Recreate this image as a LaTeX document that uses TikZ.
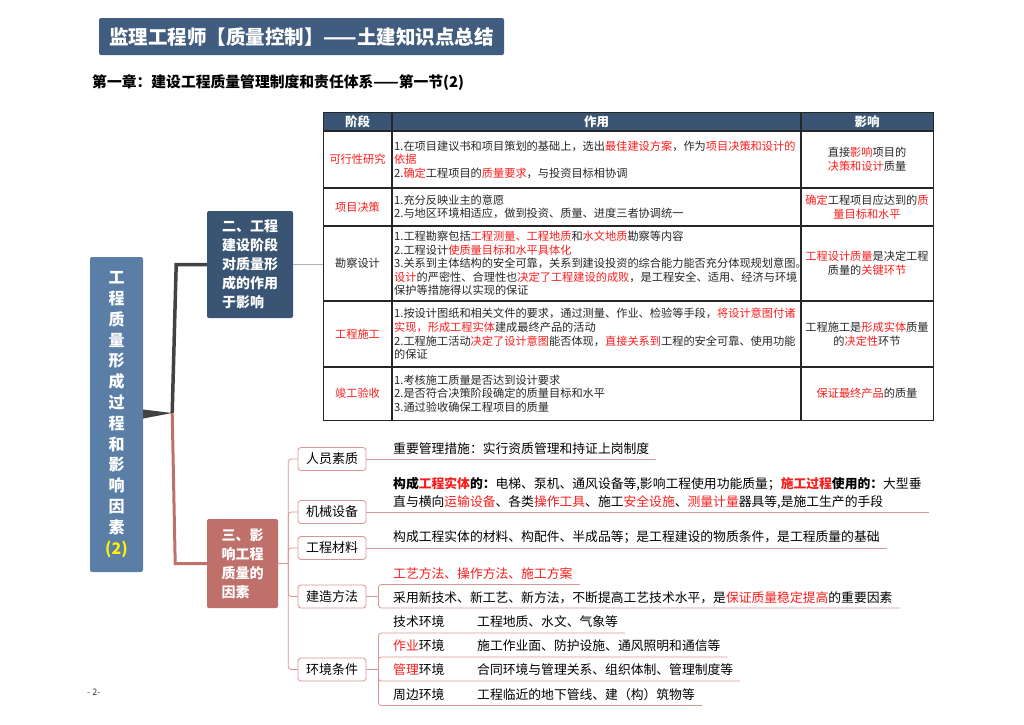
\documentclass[tikz,border=0pt]{standalone}
\usepackage{fontspec}
\setmainfont{Noto Sans CJK SC}
\usepackage{xcolor}
\usepackage{tikz}
\usetikzlibrary{calc,positioning}
\definecolor{titleblue}{RGB}{64,92,126}
\definecolor{deepblue}{RGB}{58,85,115}
\definecolor{rootblue}{RGB}{90,126,166}
\definecolor{rosered}{RGB}{192,112,107}
\definecolor{pinkline}{RGB}{214,150,146}
\definecolor{hotred}{RGB}{250,28,28}
\definecolor{darkbranch}{RGB}{66,66,66}
\newcommand{\hl}[1]{\textcolor{hotred}{#1}}
\newcommand{\hlb}[1]{\textbf{\textcolor{hotred}{#1}}}

\begin{document}
\begin{tikzpicture}[x=1pt, y=-1pt,
      topic/.style={rounded corners=2pt, text=white, align=left, inner sep=0pt,
                    font=\fontsize{14}{19}\selectfont\bfseries},
      tabline/.style={black!85, line width=1.1pt},
      head/.style={text=white, font=\fontsize{12.5}{15}\selectfont\bfseries},
      cell/.style={anchor=west, align=left, inner sep=0pt, text=black!85,
                   font=\fontsize{11.2}{13.6}\selectfont},
      midcell/.style={align=center, inner sep=0pt, text=black!85,
                      font=\fontsize{11.2}{14}\selectfont},
      factor/.style={draw=pinkline, fill=white, rounded corners=3pt, line width=0.8pt,
                     minimum width=68pt, minimum height=23pt, inner sep=0pt,
                     font=\fontsize{13}{15}\selectfont},
      leaf/.style={anchor=west, align=left, inner xsep=7pt, inner ysep=0pt,
                   font=\fontsize{12.8}{18}\selectfont},
      twig/.style={pinkline, line width=0.8pt, rounded corners=3pt}]
    \useasboundingbox (0,0) rectangle (1024,724);

    \node[fill=titleblue, rounded corners=2pt, minimum width=405pt, minimum height=37pt, text=white,
          font=\fontsize{19.5}{22}\selectfont\bfseries] (title) at (301.5,36.5) {监理工程师【质量控制】——土建知识点总结};
    \node[anchor=west, inner sep=0pt, font=\fontsize{14.8}{17}\selectfont\bfseries] (chapter) at (92,83) {第一章：建设工程质量管理制度和责任体系——第一节(2)};

    \node[topic, fill=rootblue, minimum width=53pt, minimum height=315pt, align=center,
          font=\fontsize{16}{20.8}\selectfont\bfseries] (root) at (116.5,414.5)
          {工\\程\\质\\量\\形\\成\\过\\程\\和\\影\\响\\因\\素\\\textcolor{yellow}{(2)}};
    \node[topic, fill=deepblue, minimum width=86pt, minimum height=107pt] (n2) at (250,264.5) {二、工程\\建设阶段\\对质量形\\成的作用\\于影响};
    \node[topic, fill=rosered, minimum width=71pt, minimum height=89pt] (n3) at (242.5,563.5) {三、影\\响工程\\质量的\\因素};

    \coordinate (hub) at ($(root.east)+(29,-1.5)$);
    \fill[darkbranch] ($(root.east)+(0,-5)$) -- (hub) -- ($(root.east)+(0,4)$) -- cycle;
    \draw[darkbranch, line width=3.5pt] (hub) -- ($(hub |- n2.west)+(4,0)$) -- (n2.west);
    \draw[rosered, line width=3pt] (hub) -- ($(hub |- n3.west)+(3,0)$) -- (n3.west);

    % table
    \fill[deepblue] (323,112) rectangle (933,131);
    \node[draw=black!85, line width=1.1pt, minimum width=610pt, minimum height=308pt,
          anchor=north west, inner sep=0pt] (tbl) at (323,112) {};
    \foreach \yy in {131,188,226,301,367}
      \draw[tabline] (323,\yy) -- (933,\yy);
    \foreach \xx in {392,801}
      \draw[tabline] (\xx,112) -- (\xx,420);
    \draw[gray!60, line width=0.7pt] (n2.east) -- (n2.east -| tbl.west);

    \node[head] (hstage) at (357.5,121.5) {阶段};
    \node[head] (hrole) at (596.5,121.5) {作用};
    \node[head] (heffect) at (867,121.5) {影响};

    \node[midcell] (s1) at (357.5,159.5) {\hl{可行性研究}};
    \node[midcell] (s2) at (357.5,207) {\hl{项目决策}};
    \node[midcell] (s3) at (357.5,263.5) {勘察设计};
    \node[midcell] (s4) at (357.5,334) {\hl{工程施工}};
    \node[midcell] (s5) at (357.5,393.5) {\hl{竣工验收}};

    \node[cell] (w1) at (394,159.5) {1.在项目建议书和项目策划的基础上，选出\hl{最佳建设方案}，作为\hl{项目决策和设计的}\\\hl{依据}\\2.\hl{确定}工程项目的\hl{质量要求}，与投资目标相协调};
    \node[cell] (w2) at (394,207) {1.充分反映业主的意愿\\2.与地区环境相适应，做到投资、质量、进度三者协调统一};
    \node[cell] (w3) at (394,263.5) {1.工程勘察包括\hl{工程测量、工程地质}和\hl{水文地质}勘察等内容\\2.工程设计\hl{使质量目标和水平具体化}\\3.关系到主体结构的安全可靠，关系到建设投资的综合能力能否充分体现规划意图。\\\hl{设计}的严密性、合理性也\hl{决定了工程建设的成败}，是工程安全、适用、经济与环境\\保护等措施得以实现的保证};
    \node[cell] (w4) at (394,334) {1.按设计图纸和相关文件的要求，通过测量、作业、检验等手段，\hl{将设计意图付诸}\\\hl{实现，形成工程实体}建成最终产品的活动\\2.工程施工活动\hl{决定了设计意图}能否体现，\hl{直接关系到}工程的安全可靠、使用功能\\的保证};
    \node[cell] (w5) at (394,393.5) {1.考核施工质量是否达到设计要求\\2.是否符合决策阶段确定的质量目标和水平\\3.通过验收确保工程项目的质量};

    \node[midcell] (e1) at (867,159.5) {直接\hl{影响}项目的\\\hl{决策和设计}质量};
    \node[midcell] (e2) at (867,207) {\hl{确定}工程项目应达到的\hl{质}\\\hl{量目标和水平}};
    \node[midcell] (e3) at (867,263.5) {\hl{工程设计质量}是决定工程\\质量的\hl{关键环节}};
    \node[midcell] (e4) at (867,334) {工程施工是\hl{形成实体}质量\\的\hl{决定性}环节};
    \node[midcell] (e5) at (867,393.5) {\hl{保证最终产品}的质量};

    % factors
    \node[factor] (c1) at (332,459) {人员素质};
    \node[factor] (c2) at (332,512) {机械设备};
    \node[factor] (c3) at (332,548) {工程材料};
    \node[factor] (c4) at (332,596.5) {建造方法};
    \node[factor] (c5) at (332,669.5) {环境条件};

    \coordinate (b3) at ($(n3.east)+(10,0)$);
    \draw[twig] (n3.east) -- (b3);
    \foreach \c in {c1,c2,c3,c4,c5}
      \draw[twig] (b3) |- (\c.west);

    \node[leaf] (l1) at (386,449) {重要管理措施：实行资质管理和持证上岗制度};
    \node[leaf] (l2) at (386,493) {\textbf{构成}\hlb{工程实体}\textbf{的：}电梯、泵机、通风设备等,影响工程使用功能质量；\hlb{施工过程}\textbf{使用的：}大型垂\\直与横向\hl{运输设备}、各类\hl{操作工具}、施工\hl{安全设施}、\hl{测量计量}器具等,是施工生产的手段};
    \node[leaf] (l3) at (386,537) {构成工程实体的材料、构配件、半成品等；是工程建设的物质条件，是工程质量的基础};
    \draw[twig] (c1.east) -- (c1.east -| l1.east);
    \draw[twig] (c2.east) -- (c2.east -| l2.east);
    \draw[twig] (c3.east) -- (c3.east -| l3.east);

    \node[leaf] (l4a) at (386,574) {\hl{工艺方法、操作方法、施工方案}};
    \node[leaf] (l4b) at (386,597.5) {采用新技术、新工艺、新方法，不断提高工艺技术水平，是\hl{保证质量稳定提高}的重要因素};
    \coordinate (b4) at ($(c4.east)+(12,0)$);
    \draw[twig] (c4.east) -- (b4);
    \draw[twig] (b4) |- ($(l4a.east)+(0,10.5)$);
    \draw[twig] (b4) |- ($(l4b.east)+(0,10.5)$);

    \node[leaf] (l5a) at (386,622) {\makebox[84pt][l]{技术环境}工程地质、水文、气象等};
    \node[leaf] (l5b) at (386,646) {\makebox[84pt][l]{\hl{作业}环境}施工作业面、防护设施、通风照明和通信等};
    \node[leaf] (l5c) at (386,670) {\makebox[84pt][l]{\hl{管理}环境}合同环境与管理关系、组织体制、管理制度等};
    \node[leaf] (l5d) at (386,694.5) {\makebox[84pt][l]{周边环境}工程临近的地下管线、建（构）筑物等};
    \coordinate (b5) at ($(c5.east)+(12,0)$);
    \draw[twig] (c5.east) -- (b5);
    \foreach \l in {l5a,l5b,l5c,l5d}
      \draw[twig] (b5) |- ($(\l.east)+(0,11)$);

    \node[anchor=west, inner sep=0pt, text=black!75, font=\fontsize{9}{10}\selectfont] (page) at (87,692) {- 2-};
\end{tikzpicture}
\end{document}
